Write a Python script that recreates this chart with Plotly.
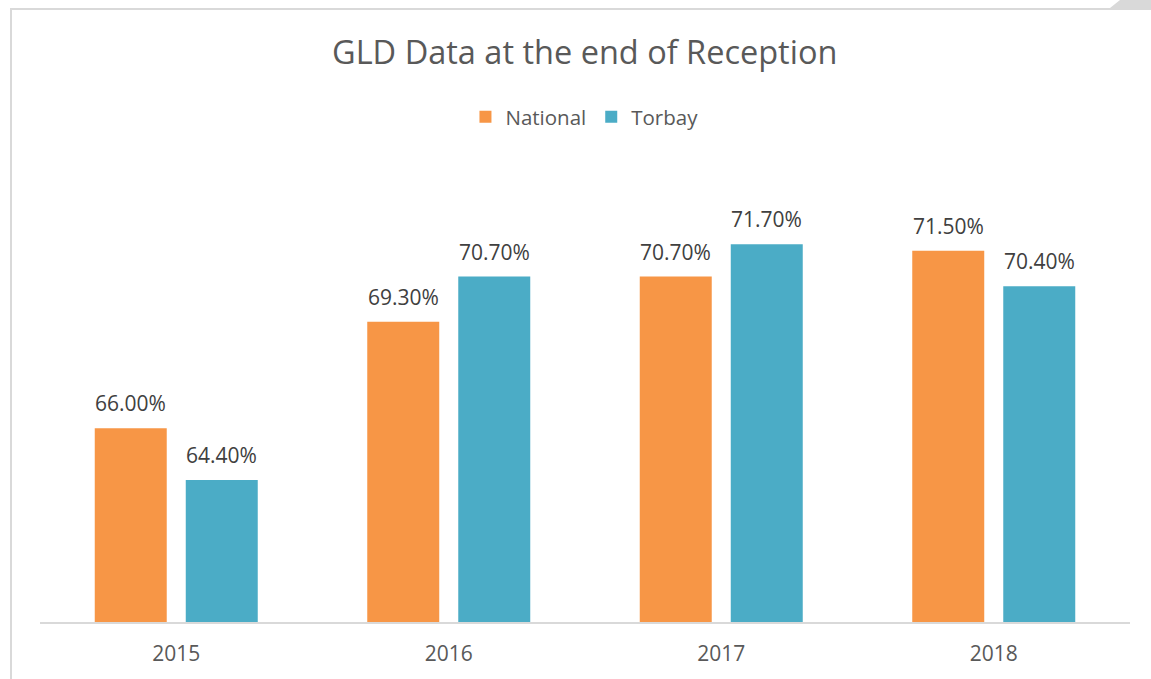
import plotly.graph_objects as go

years = ["2015", "2016", "2017", "2018"]
national = [66.0, 69.3, 70.7, 71.5]
torbay = [64.4, 70.7, 71.7, 70.4]
series_names = ["National", "Torbay"]
colors = ["#F79646", "#4BACC6"]
BASE = 60

FONT = "Open Sans, Liberation Sans, sans-serif"

TOP, BOT = 170, 57
PLOT_BOTTOM = 679 - BOT
PLOT_H = PLOT_BOTTOM - TOP


def px_x(p):
    return (p - 40) / 1090


def px_y(p):
    return (PLOT_BOTTOM - p) / PLOT_H


fig = go.Figure()
for name, vals, col in zip(series_names, [national, torbay], colors):
    fig.add_trace(go.Bar(
        x=years, y=[v - BASE for v in vals], base=BASE, name=name,
        marker=dict(color=col, line=dict(width=0)), hoverinfo="skip",
    ))

annotations = []
for vals, shift in [(national, -45.5), (torbay, 45.5)]:
    for i, v in enumerate(vals):
        annotations.append(dict(
            x=i, y=v, xref="x", yref="y", text=f"{v:.2f}%", showarrow=False,
            xshift=shift, yshift=25, font=dict(size=21, color="#404040", family=FONT),
        ))

fig.update_layout(
    width=1151, height=679,
    margin=dict(l=40, r=21, t=TOP, b=BOT, autoexpand=False),
    paper_bgcolor="white", plot_bgcolor="white",
    barmode="group", bargap=0.332, bargroupgap=0.209,
    title=dict(text="GLD Data at the end of Reception", x=0.508, xanchor="center",
               y=1 - 53 / 679, yanchor="middle", yref="container",
               font=dict(size=32.5, color="#595959", family=FONT)),
    legend=dict(orientation="h", x=0.4995, xanchor="center", y=px_y(117),
                yanchor="middle",
                font=dict(size=20.5, color="#595959", family=FONT), itemwidth=30,
                traceorder="normal"),
    xaxis=dict(type="category", range=[-0.5, 3.5], automargin=False,
               showline=True, linecolor="#D9D9D9", linewidth=2,
               ticks="outside", ticklen=12, tickcolor="rgba(0,0,0,0)",
               tickfont=dict(size=21, color="#595959", family=FONT), showgrid=False),
    yaxis=dict(range=[BASE, 74], visible=False, showgrid=False, zeroline=False,
               automargin=False),
    annotations=annotations,
    shapes=[
        dict(type="rect", xref="paper", yref="paper",
             x0=px_x(11), x1=1.05, y0=-0.2, y1=px_y(9),
             line=dict(color="#D9D9D9", width=2), fillcolor="rgba(0,0,0,0)", layer="below"),
        dict(type="path", xref="paper", yref="paper",
             path=(f"M {px_x(1110)},{px_y(8)} L {px_x(1120)},{px_y(0)} "
                   f"L {px_x(1155)},{px_y(0)} L {px_x(1155)},{px_y(8)} Z"),
             line=dict(width=0), fillcolor="#D9D9D9"),
    ],
)

fig.write_html("out.html", post_script="document.body.style.margin='0';",
               config={"displayModeBar": False})
